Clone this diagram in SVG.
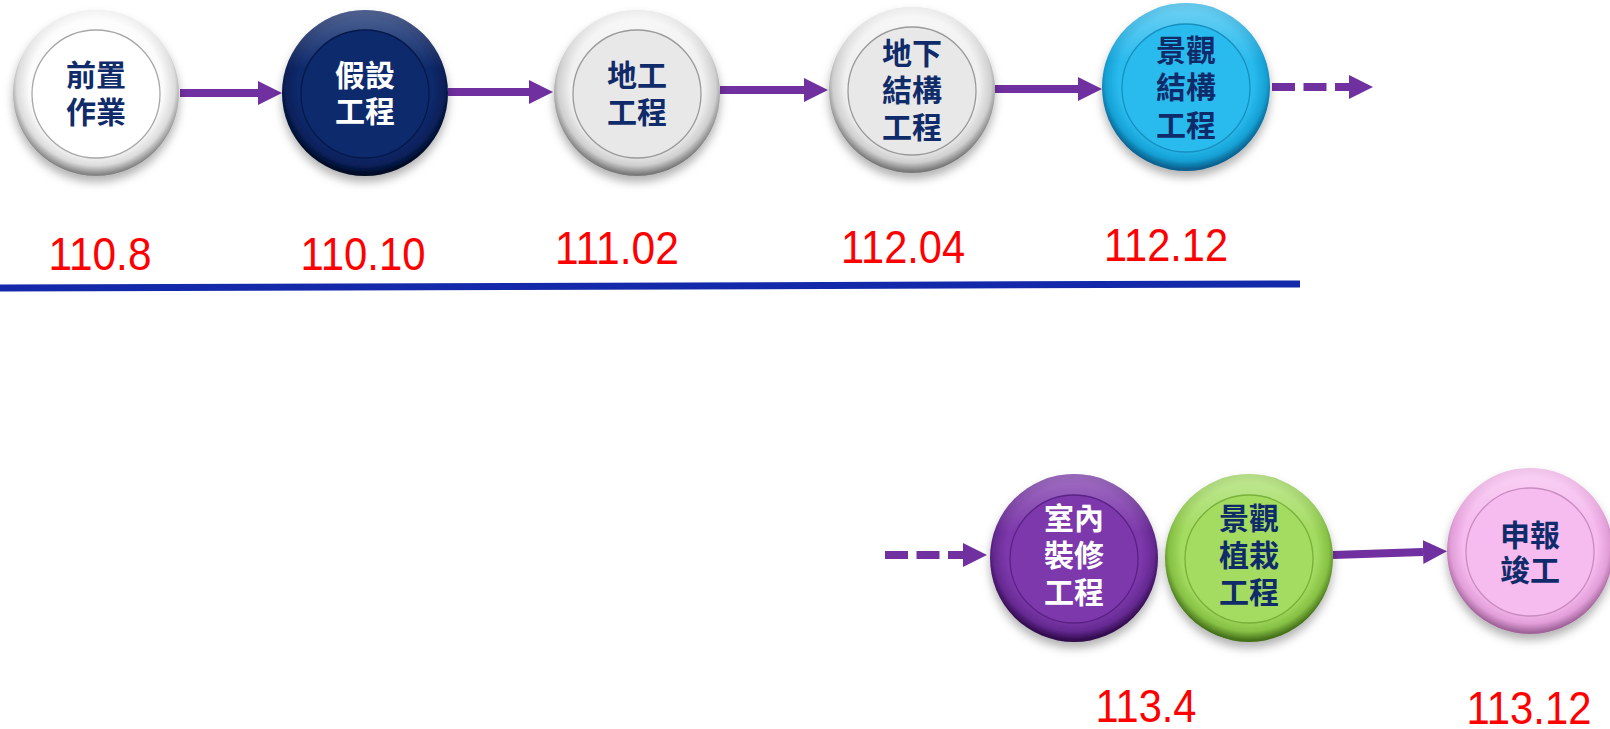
<svg xmlns="http://www.w3.org/2000/svg" width="1610" height="729" viewBox="0 0 1610 729">
<defs>
<filter id="sh" x="-30%" y="-30%" width="160%" height="170%">
<feDropShadow dx="0" dy="6" stdDeviation="5" flood-color="#000" flood-opacity="0.3"/>
</filter>
<radialGradient id="gW" cx="50%" cy="46%" r="53%"><stop offset="0" stop-color="#fff"/><stop offset="0.76" stop-color="#fbfbfb"/><stop offset="0.9" stop-color="#dcdcdc"/><stop offset="1" stop-color="#858585"/></radialGradient>
<radialGradient id="gG" cx="50%" cy="46%" r="53%"><stop offset="0" stop-color="#f2f2f2"/><stop offset="0.76" stop-color="#f0f0f0"/><stop offset="0.9" stop-color="#cfcfcf"/><stop offset="1" stop-color="#7a7a7a"/></radialGradient>
<radialGradient id="gN" cx="50%" cy="46%" r="53%"><stop offset="0" stop-color="#0c2868"/><stop offset="0.76" stop-color="#0d2a6c"/><stop offset="0.9" stop-color="#08205a"/><stop offset="1" stop-color="#020a22"/></radialGradient>
<radialGradient id="gC" cx="50%" cy="46%" r="53%"><stop offset="0" stop-color="#29b9ec"/><stop offset="0.76" stop-color="#2abbee"/><stop offset="0.9" stop-color="#16a2d6"/><stop offset="1" stop-color="#085f8c"/></radialGradient>
<radialGradient id="gP" cx="50%" cy="46%" r="53%"><stop offset="0" stop-color="#7a35a8"/><stop offset="0.76" stop-color="#7d38ab"/><stop offset="0.9" stop-color="#662a92"/><stop offset="1" stop-color="#300a4c"/></radialGradient>
<radialGradient id="gL" cx="50%" cy="46%" r="53%"><stop offset="0" stop-color="#a0da5c"/><stop offset="0.76" stop-color="#a3dc60"/><stop offset="0.9" stop-color="#86c044"/><stop offset="1" stop-color="#44701a"/></radialGradient>
<radialGradient id="gK" cx="50%" cy="46%" r="53%"><stop offset="0" stop-color="#f5b8ee"/><stop offset="0.76" stop-color="#f6bbef"/><stop offset="0.9" stop-color="#e29ed8"/><stop offset="1" stop-color="#a0649a"/></radialGradient>
<linearGradient id="hl" x1="0" y1="0" x2="0" y2="1"><stop offset="0" stop-color="#fff" stop-opacity="0.55"/><stop offset="0.35" stop-color="#fff" stop-opacity="0"/><stop offset="1" stop-color="#fff" stop-opacity="0"/></linearGradient>
<marker id="ah" viewBox="0 0 24 24" refX="0" refY="12" markerWidth="24" markerHeight="24" markerUnits="userSpaceOnUse" orient="auto"><path d="M0,0 L24,12 L0,24 z" fill="#7030a0"/></marker>
</defs>
<style>
.outer{filter:url(#sh)}
.inner{stroke-width:1.3}
.t{font-family:"Noto Sans CJK TC","Noto Sans CJK SC",sans-serif;font-size:30px;font-weight:700;text-anchor:middle}
.dk{fill:#102b6a}
.wt{fill:#ffffff}
.d{font-family:"Liberation Sans",Arial,sans-serif;font-size:46px;fill:#ff0000;text-anchor:middle}
.c{stroke:#7030a0;stroke-width:8;fill:none;marker-end:url(#ah)}
.dash{stroke-dasharray:23 8.5}
</style>
<rect width="1610" height="729" fill="#fff"/>
<g id="connectors">
<line class="c" x1="180" y1="93" x2="258" y2="93"/>
<line class="c" x1="448" y1="92" x2="529" y2="92"/>
<line class="c" x1="720" y1="90" x2="804" y2="90"/>
<line class="c" x1="995" y1="89" x2="1078" y2="89"/>
<line class="c dash" x1="1272" y1="87" x2="1349" y2="87"/>
<line class="c dash" x1="885" y1="555" x2="963" y2="555"/>
<line class="c" x1="1333" y1="555" x2="1423" y2="552"/>
</g>
<g id="timeline">
<line x1="0" y1="288" x2="1300" y2="284" stroke="#1428aa" stroke-width="7"/>
</g>
<g id="n1">
<circle class="outer" cx="96" cy="93" r="83" fill="url(#gW)"/>
<circle cx="96" cy="93" r="83" fill="url(#hl)"/>
<circle class="inner" cx="96" cy="94" r="64" fill="#fff" stroke="#a8a8a8"/>
<text class="t dk" x="96" y="86">前置<tspan x="96" dy="37">作業</tspan></text>
</g>
<g id="n2">
<circle class="outer" cx="365" cy="93" r="83" fill="url(#gN)"/>
<circle cx="365" cy="93" r="83" fill="url(#hl)" opacity="0.5"/>
<circle class="inner" cx="365" cy="94" r="64" fill="#0d2a6c" stroke="#06184a"/>
<text class="t wt" x="365" y="86">假設<tspan x="365" dy="36">工程</tspan></text>
</g>
<g id="n3">
<circle class="outer" cx="637" cy="93" r="83" fill="url(#gG)"/>
<circle cx="637" cy="93" r="83" fill="url(#hl)"/>
<circle class="inner" cx="637" cy="94" r="64" fill="#e8e8e8" stroke="#9a9a9a"/>
<text class="t dk" x="637" y="86">地工<tspan x="637" dy="37">工程</tspan></text>
</g>
<g id="n4">
<circle class="outer" cx="912" cy="90" r="83" fill="url(#gG)"/>
<circle cx="912" cy="90" r="83" fill="url(#hl)"/>
<circle class="inner" cx="912" cy="91" r="64" fill="#e8e8e8" stroke="#9a9a9a"/>
<text class="t dk" x="912" y="64">地下<tspan x="912" dy="37">結構</tspan><tspan x="912" dy="37">工程</tspan></text>
</g>
<g id="n5">
<circle class="outer" cx="1186" cy="87" r="84" fill="url(#gC)"/>
<circle cx="1186" cy="87" r="84" fill="url(#hl)" opacity="0.6"/>
<circle class="inner" cx="1186" cy="88" r="64" fill="#2abbee" stroke="#1690c0"/>
<text class="t dk" x="1186" y="61">景觀<tspan x="1186" dy="37">結構</tspan><tspan x="1186" dy="38">工程</tspan></text>
</g>
<g id="n6">
<circle class="outer" cx="1074" cy="558" r="84" fill="url(#gP)"/>
<circle cx="1074" cy="558" r="84" fill="url(#hl)" opacity="0.5"/>
<circle class="inner" cx="1074" cy="559" r="64" fill="#7d38ab" stroke="#5a2285"/>
<text class="t wt" x="1074" y="529">室內<tspan x="1074" dy="37">裝修</tspan><tspan x="1074" dy="37">工程</tspan></text>
</g>
<g id="n7">
<circle class="outer" cx="1249" cy="558" r="84" fill="url(#gL)"/>
<circle cx="1249" cy="558" r="84" fill="url(#hl)" opacity="0.6"/>
<circle class="inner" cx="1249" cy="559" r="64" fill="#a3dc60" stroke="#78b03a"/>
<text class="t dk" x="1249" y="529">景觀<tspan x="1249" dy="37">植栽</tspan><tspan x="1249" dy="37">工程</tspan></text>
</g>
<g id="n8">
<circle class="outer" cx="1530" cy="551" r="83" fill="url(#gK)"/>
<circle cx="1530" cy="551" r="83" fill="url(#hl)" opacity="0.6"/>
<circle class="inner" cx="1530" cy="552" r="64" fill="#f6bbef" stroke="#c98cc0"/>
<text class="t dk" x="1530" y="546">申報<tspan x="1530" dy="35">竣工</tspan></text>
</g>
<g id="dates">
<text class="d" x="100" y="270" textLength="103" lengthAdjust="spacingAndGlyphs">110.8</text>
<text class="d" x="363" y="270" textLength="125" lengthAdjust="spacingAndGlyphs">110.10</text>
<text class="d" x="617" y="264" textLength="124" lengthAdjust="spacingAndGlyphs">111.02</text>
<text class="d" x="903" y="263" textLength="124" lengthAdjust="spacingAndGlyphs">112.04</text>
<text class="d" x="1166" y="261" textLength="124" lengthAdjust="spacingAndGlyphs">112.12</text>
<text class="d" x="1146" y="722" textLength="101" lengthAdjust="spacingAndGlyphs">113.4</text>
<text class="d" x="1529" y="724" textLength="125" lengthAdjust="spacingAndGlyphs">113.12</text>
</g>
</svg>
